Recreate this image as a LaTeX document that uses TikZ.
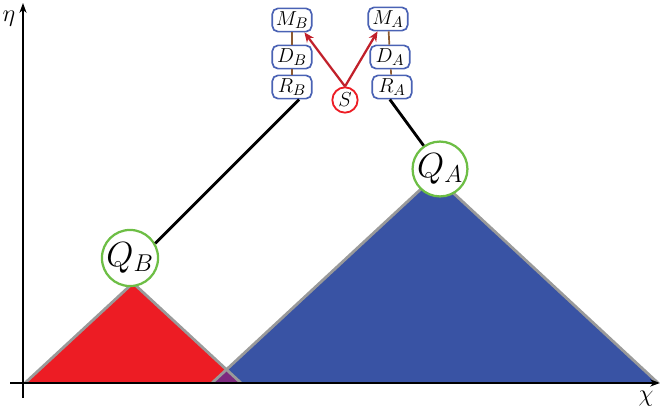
\documentclass[tikz,border=0pt]{standalone}
\usetikzlibrary{arrows.meta, positioning}
\definecolor{redfill}{HTML}{ED1C24}
\definecolor{bluefill}{HTML}{3953A4}
\definecolor{overlap}{HTML}{7D2A7F}
\definecolor{edgegray}{HTML}{9A9A9A}
\definecolor{qgreen}{HTML}{6DBE45}
\definecolor{boxblue}{HTML}{4A62B4}
\definecolor{stem}{HTML}{8B5A32}
\definecolor{darkred}{HTML}{C1202A}

\begin{document}
\begin{tikzpicture}[
  x=0.025cm, y=-0.025cm,
  qnode/.style={circle,draw=qgreen,fill=white,line width=1.6pt,minimum size=38pt,inner sep=0pt,font=\fontsize{24}{26}\selectfont},
  mem/.style={rectangle,draw=boxblue,fill=white,rounded corners=4pt,line width=1.2pt,minimum width=28pt,minimum height=16.5pt,inner sep=0pt,font=\fontsize{15}{16}\selectfont},
  src/.style={circle,draw=redfill,fill=white,line width=1.3pt,minimum size=18pt,inner sep=0pt,font=\fontsize{15}{16}\selectfont},
  tri/.style={draw=edgegray,line width=2pt,line join=round},
  link/.style={line width=2pt,black},
  stemline/.style={line width=1.2pt,stem},
  ptr/.style={-{Stealth[length=7pt,width=6pt]},line width=1.6pt,darkred},
  axis/.style={-{Stealth[length=7pt,width=5pt]},line width=1.2pt,black}
]
  \useasboundingbox (0,0) rectangle (660,416);

  % triangles
  \fill[redfill] (25,383) -- (133,283) -- (241,383) -- cycle;
  \fill[bluefill] (212,383) -- (435,176) -- (658,383) -- cycle;
  \begin{scope}
    \clip (212,383) -- (435,176) -- (658,383) -- cycle;
    \fill[overlap] (25,383) -- (133,283) -- (241,383) -- cycle;
  \end{scope}
  \draw[tri] (25,383) -- (133,283) -- (241,383);
  \draw[tri] (212,383) -- (435,176) -- (658,383);

  % axes
  \coordinate (xs) at (10,383);
  \coordinate (xe) at (660,383);
  \coordinate (ys) at (23,398);
  \coordinate (ye) at (23,3);
  \draw[axis] (xs) -- (xe);
  \draw[axis] (ys) -- (ye);
  \node[font=\LARGE] (eta) at (9,19) {$\eta$};
  \node[font=\LARGE] (chi) at (646,399) {$\chi$};

  % nodes
  \node[mem] (MB) at (292,20) {$M_B$};
  \node[mem] (DB) at (292,57) {$D_B$};
  \node[mem] (RB) at (292,87) {$R_B$};
  \node[mem] (MA) at (388,19) {$M_A$};
  \node[mem] (DA) at (390,57) {$D_A$};
  \node[mem] (RA) at (392,87) {$R_A$};
  \node[src] (S) at (345,100) {$S$};
  \node[qnode] (QB) at (130,258) {$Q_B$};
  \node[qnode] (QA) at (440,169) {$Q_A$};

  \draw[stemline] (MB) -- (DB);
  \draw[stemline] (DB) -- (RB);
  \draw[stemline] (MA) -- (DA);
  \draw[stemline] (DA) -- (RA);

  \draw[link] (RB.-60) -- (QB.30);
  \draw[link] (RA.-100) -- (QA.125);

  \draw[ptr] (S.north) -- (MB.-45);
  \draw[ptr] (S.north) -- (MA.-130);
\end{tikzpicture}
\end{document}
